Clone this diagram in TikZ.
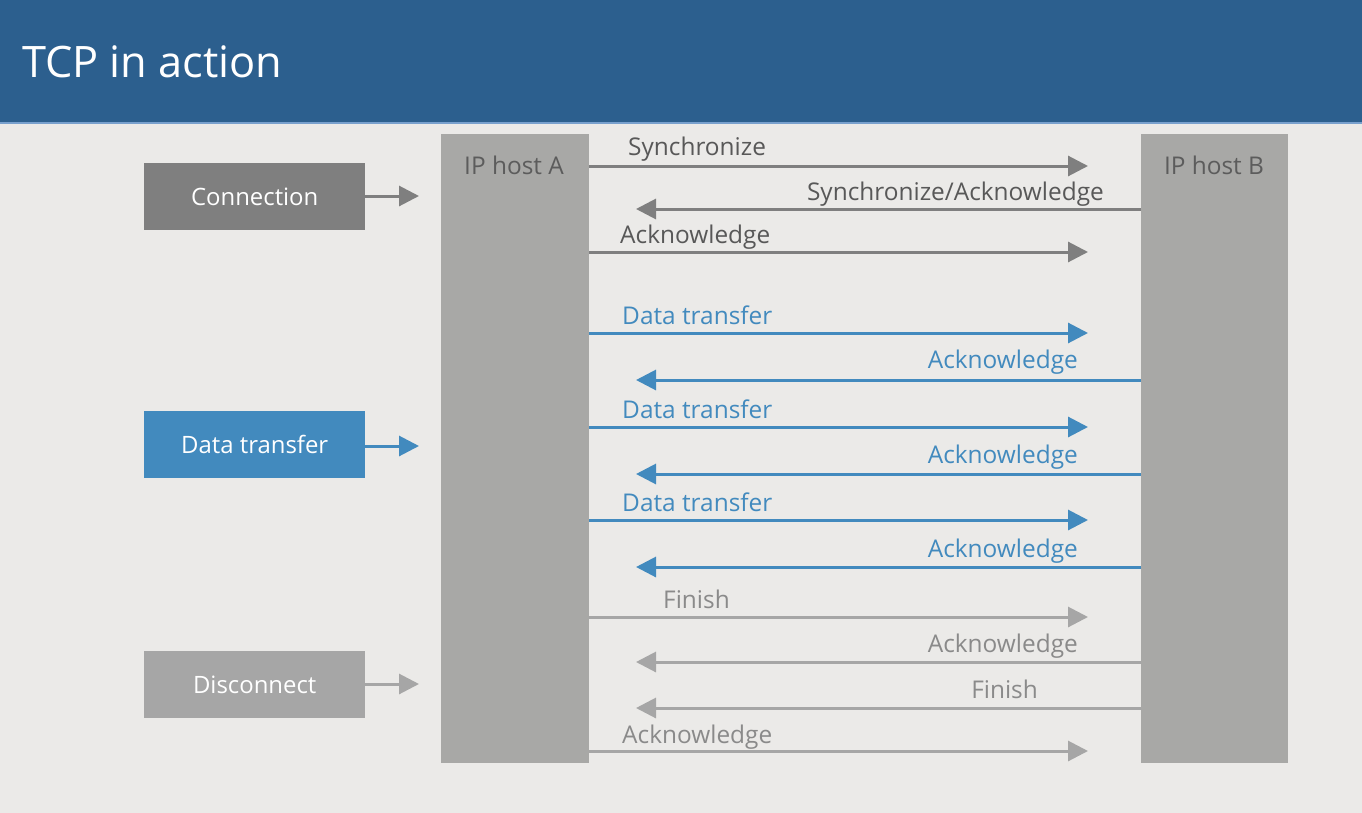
\documentclass[tikz,border=0pt]{standalone}
\usepackage{fontspec}
\setmainfont{Open Sans}
\usetikzlibrary{arrows.meta}
\definecolor{bg}{RGB}{235,234,232}
\definecolor{hdr}{RGB}{44,95,142}
\definecolor{hdrline}{RGB}{120,160,205}
\definecolor{host}{RGB}{168,168,166}
\definecolor{conn}{RGB}{127,127,127}
\definecolor{conntxt}{RGB}{88,88,88}
\definecolor{data}{RGB}{66,138,190}
\definecolor{disc}{RGB}{166,166,166}
\definecolor{disctxt}{RGB}{138,138,138}
\definecolor{hosttxt}{RGB}{92,92,92}
\tikzset{
  hostbox/.style={fill=host, draw=none},
  phasebox/.style={draw=none, minimum width=221bp, minimum height=67bp, inner sep=0pt, text=white, font=\fontsize{24}{28}\selectfont},
  msg/.style={line width=3bp, -{Triangle[length=20bp,width=20bp]}},
  lbl/.style={inner sep=0pt, font=\fontsize{24.5}{28}\selectfont},
}
\begin{document}
\begin{tikzpicture}[x=1bp,y=-1bp]
\useasboundingbox (0,0) rectangle (1362,812);
\fill[bg] (-10,-10) rectangle (1372,822);
\fill[hdr] (-10,-10) rectangle (1372,122);
\fill[hdrline] (-10,122) rectangle (1372,124);
\node[anchor=base west, inner sep=0pt, text=white, font=\fontsize{43.5}{50}\selectfont] (title) at (22,77) {TCP in action};

% hosts
\node[hostbox, minimum width=148bp, minimum height=629bp, inner sep=0pt, anchor=north west] (hA) at (441,134) {};
\node[hostbox, minimum width=147bp, minimum height=629bp, inner sep=0pt, anchor=north west] (hB) at (1141,134) {};
\node[lbl, anchor=base, text=hosttxt] (hAl) at (514,174) {IP host A};
\node[lbl, anchor=base, text=hosttxt] (hBl) at (1214,174) {IP host B};

% phase boxes
\node[phasebox, fill=conn, anchor=north west] (pc) at (144,163) {Connection};
\node[phasebox, fill=data, anchor=north west] (pd) at (144,411) {Data transfer};
\node[phasebox, fill=disc, anchor=north west] (px) at (144,651) {Disconnect};
\coordinate (pcA) at (419,196);
\coordinate (pdA) at (419,446);
\coordinate (pxA) at (419,684);
\draw[msg, conn] (pc.east |- pcA) -- (pcA);
\draw[msg, data] (pd.east |- pdA) -- (pdA);
\draw[msg, disc] (px.east |- pxA) -- (pxA);

% message end points
\foreach \n/\y in {1/166,2/209,3/252,4/333,5/380,6/427,7/474,8/520,9/567,10/617,11/662,12/708,13/751}{
  \coordinate (a\n) at (589,\y);
  \coordinate (b\n) at (1141,\y);
  \coordinate (ra\n) at (1088,\y);
  \coordinate (la\n) at (636,\y);
}

% connection
\draw[msg, conn] (a1) -- (ra1);
\node[lbl, text=conntxt, anchor=base west] (t1) at (628,155) {Synchronize};
\draw[msg, conn] (b2) -- (la2);
\node[lbl, text=conntxt, anchor=base east] (t2) at (1104,200) {Synchronize/Acknowledge};
\draw[msg, conn] (a3) -- (ra3);
\node[lbl, text=conntxt, anchor=base west] (t3) at (620,243) {Acknowledge};

% data
\draw[msg, data] (a4) -- (ra4);
\node[lbl, text=data, anchor=base west] (t4) at (622,324) {Data transfer};
\draw[msg, data] (b5) -- (la5);
\node[lbl, text=data, anchor=base east] (t5) at (1078,368) {Acknowledge};
\draw[msg, data] (a6) -- (ra6);
\node[lbl, text=data, anchor=base west] (t6) at (622,418) {Data transfer};
\draw[msg, data] (b7) -- (la7);
\node[lbl, text=data, anchor=base east] (t7) at (1078,463) {Acknowledge};
\draw[msg, data] (a8) -- (ra8);
\node[lbl, text=data, anchor=base west] (t8) at (622,511) {Data transfer};
\draw[msg, data] (b9) -- (la9);
\node[lbl, text=data, anchor=base east] (t9) at (1078,557) {Acknowledge};

% disconnect
\draw[msg, disc] (a10) -- (ra10);
\node[lbl, text=disctxt, anchor=base west] (t10) at (663,608) {Finish};
\draw[msg, disc] (b11) -- (la11);
\node[lbl, text=disctxt, anchor=base east] (t11) at (1078,652) {Acknowledge};
\draw[msg, disc] (b12) -- (la12);
\node[lbl, text=disctxt, anchor=base east] (t12) at (1038,698) {Finish};
\draw[msg, disc] (a13) -- (ra13);
\node[lbl, text=disctxt, anchor=base west] (t13) at (622,743) {Acknowledge};
\end{tikzpicture}
\end{document}
